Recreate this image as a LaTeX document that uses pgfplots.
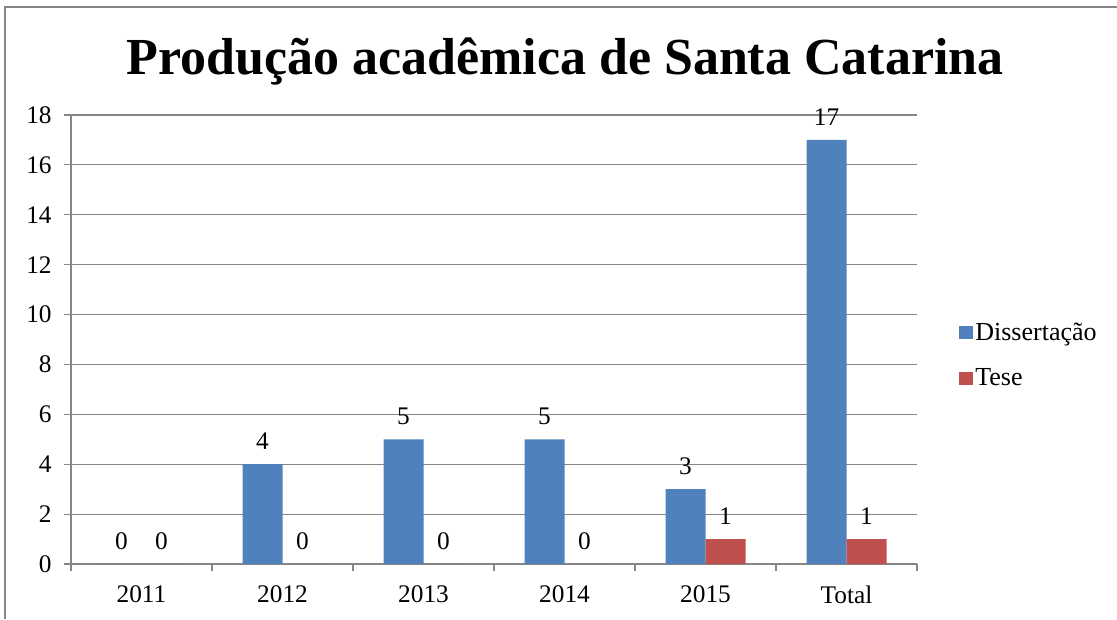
\documentclass[border=0pt]{standalone}
\usepackage{pgfplots}
\pgfplotsset{compat=1.18}
\usepackage{fontspec}
\setmainfont{Liberation Serif}
\definecolor{barblue}{HTML}{4F81BD}
\definecolor{barred}{HTML}{C0504D}
\definecolor{gridgray}{HTML}{868686}
\begin{document}
\begin{tikzpicture}
\path[use as bounding box] (0,0) rectangle (837.75pt,464.25pt);
\draw[gridgray, line width=0.8pt] (3.75pt,0) -- (3.75pt,459pt) -- (837.75pt,459pt);
\node[anchor=base, font=\fontsize{39}{46}\selectfont\bfseries] at (423.75pt,408pt) {Produção acadêmica de Santa Catarina};
\begin{axis}[
  at={(53.25pt,41.25pt)}, anchor=south west,
  scale only axis, width=634.5pt, height=336.75pt,
  /pgf/number format/assume math mode=true,
  ybar=0pt, bar width=30pt,
  xmin=-0.5, xmax=5.5, ymin=0, ymax=18,
  ytick={0,2,...,18},
  xtick={-0.5,0.5,...,5.5},
  xticklabels={2011,2012,2013,2014,2015,Total},
  x tick label as interval,
  axis x line*=bottom, axis y line*=left,
  axis line style={gridgray, line width=0.8pt},
  tick style={gridgray, line width=0.8pt},
  tick align=outside, major tick length=5pt,
  ymajorgrids, grid style={gridgray, line width=0.8pt},
  every tick label/.append style={font=\fontsize{19}{22}\selectfont, text=black},
  xticklabel style={yshift=-8pt},
  yticklabel style={xshift=-6pt},
  clip=false,
  nodes near coords,
  every node near coord/.append style={font=\fontsize{19}{22}\selectfont, anchor=base, yshift=11pt, text=black},
  legend style={draw=none, at={(1.045,0.465)}, anchor=west, font=\fontsize{19.5}{23}\selectfont, row sep=16pt, legend cell align=left, fill=none},
  legend image code/.code={\fill[#1] (0pt,-5pt) rectangle (10pt,5pt);},
]
\addplot[fill=barblue, draw=none] coordinates {(0,0) (1,4) (2,5) (3,5) (4,3) (5,17)};
\addplot[fill=barred, draw=none] coordinates {(0,0) (1,0) (2,0) (3,0) (4,1) (5,1)};
\legend{Dissertação, Tese}
\end{axis}
\end{tikzpicture}
\end{document}
